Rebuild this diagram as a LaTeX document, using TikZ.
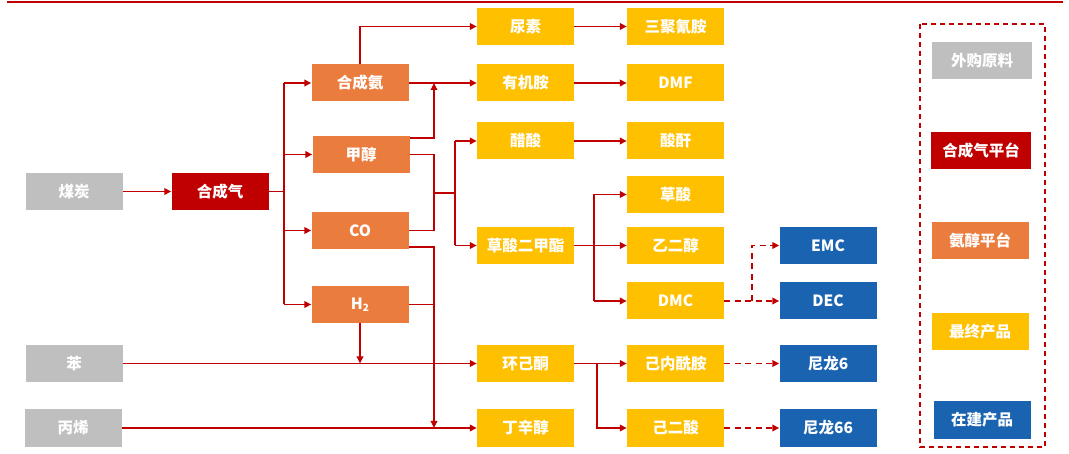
\documentclass[tikz,border=0pt]{standalone}
\usepackage{fontspec}
\setmainfont{Noto Sans CJK SC}
\usetikzlibrary{arrows.meta}
\definecolor{lred}{HTML}{C00000}
\definecolor{cgray}{HTML}{BFBFBF}
\definecolor{corange}{HTML}{EA7D3E}
\definecolor{cyellow}{HTML}{FFC000}
\definecolor{cblue}{HTML}{1A63B0}
\tikzset{
  box/.style={minimum width=97pt,minimum height=37pt,inner sep=0pt,text=white,font=\fontsize{15.5}{15.5}\selectfont\bfseries},
  graybox/.style={box,fill=cgray},
  redbox/.style={box,fill=lred},
  orangebox/.style={box,fill=corange},
  yellowbox/.style={box,fill=cyellow},
  bluebox/.style={box,fill=cblue},
  conn/.style={draw=lred,line width=1.7pt},
  arr/.style={conn,-{Triangle[length=7pt,width=6.5pt]}},
  darr/.style={arr,dash pattern=on 6pt off 4.5pt},
}
\begin{document}
\begin{tikzpicture}[x=1pt,y=-1pt]
\useasboundingbox (0,0) rectangle (1069,454);
\fill[white] (0,0) rectangle (1069,454);
\coordinate (tl) at (7,2);
\coordinate (tr) at (1063,2);
\draw[draw=lred,line width=2.2pt] (tl) -- (tr);
% sources
\node[graybox] (coal) at (74,191.5) {煤炭};
\node[graybox] (benz) at (74,363.5) {苯};
\node[graybox] (prop) at (73,428) {丙烯};
\node[redbox] (syn) at (220,191.5) {合成气};
% platform
\node[orangebox] (nh3) at (360,83) {合成氨};
\node[orangebox] (meoh) at (361,154.5) {甲醇};
\node[orangebox] (co) at (360,230.5) {CO};
\node[orangebox] (h2) at (360,304.5) {H\raisebox{-1.5pt}{\fontsize{10}{10}\selectfont 2}};
% column 1
\node[yellowbox] (urea) at (525.5,26.5) {尿素};
\node[yellowbox] (amine) at (525.5,83) {有机胺};
\node[yellowbox] (acetic) at (525.5,141) {醋酸};
\node[yellowbox] (dmo) at (525.5,245.5) {草酸二甲酯};
\node[yellowbox] (cyc) at (525.5,363.5) {环己酮};
\node[yellowbox] (oxo) at (525.5,428) {丁辛醇};
% column 2
\node[yellowbox] (mel) at (675.5,26.5) {三聚氰胺};
\node[yellowbox] (dmf) at (675.5,83) {DMF};
\node[yellowbox] (anh) at (675.5,141) {酸酐};
\node[yellowbox] (oxa) at (675.5,194.5) {草酸};
\node[yellowbox] (eg) at (675.5,245.5) {乙二醇};
\node[yellowbox] (dmc) at (675.5,301) {DMC};
\node[yellowbox] (capro) at (675.5,363.5) {己内酰胺};
\node[yellowbox] (adip) at (675.5,428) {己二酸};
% column 3
\node[bluebox] (emc) at (828,245.5) {EMC};
\node[bluebox] (dec) at (828,301) {DEC};
\node[bluebox] (ny6) at (828,363.5) {尼龙6};
\node[bluebox] (ny66) at (828,428) {尼龙66};
% legend
\coordinate (lg1) at (920,24);
\coordinate (lg2) at (1045,447);
\draw[draw=lred,line width=1.7pt,dash pattern=on 5pt off 4pt] (lg1) rectangle (lg2);
\node[graybox,minimum width=100pt] (l1) at (982,60.5) {外购原料};
\node[redbox,minimum width=100pt] (l2) at (981,150.5) {合成气平台};
\node[orangebox,minimum width=97pt] (l3) at (980,240.5) {氨醇平台};
\node[yellowbox,minimum width=97pt] (l4) at (980,331.5) {最终产品};
\node[bluebox,minimum width=97pt] (l5) at (982,420) {在建产品};
% trunk coordinates
\coordinate (t1) at (284,0);
\coordinate (x2) at (434,0);
\coordinate (m2) at (434,193);
\coordinate (t2) at (455,193);
\coordinate (t3) at (594,0);
\coordinate (t4) at (597,0);
\coordinate (t5) at (752,0);
% connectors
\draw[arr] (coal) -- (syn);
\draw[conn] (syn.east) -- (syn.east -| t1);
\draw[conn] (t1 |- nh3.west) -- (t1 |- h2.west);
\draw[arr] (t1 |- nh3.west) -- (nh3.west);
\draw[arr] (t1 |- meoh.west) -- (meoh.west);
\draw[arr] (t1 |- co.west) -- (co.west);
\draw[arr] (t1 |- h2.west) -- (h2.west);
\draw[arr] (nh3.north) |- (urea.west);
\draw[arr] (nh3.east) -- (amine.west);
\draw[arr] ([yshift=-2pt]meoh.north east) -| (x2 |- nh3.east);
\draw[conn] (meoh.east) -| (m2) -- (t2);
\draw[conn] (co.east) -| (m2);
\draw[conn] (t2 |- acetic.west) -- (t2 |- dmo.west);
\draw[arr] (t2 |- acetic.west) -- (acetic.west);
\draw[arr] (t2 |- dmo.west) -- (dmo.west);
\draw[arr] ([yshift=2.5pt]co.south east) -| (x2 |- prop.east);
\draw[conn] (h2.east) -- (x2 |- h2.east);
\draw[arr] (h2.south) -- (h2.south |- benz.east);
\draw[arr] (benz.east) -- (cyc.west);
\draw[arr] (prop.east) -- (oxo.west);
\draw[arr] (urea) -- (mel);
\draw[arr] (amine) -- (dmf);
\draw[arr] (acetic) -- (anh);
\draw[arr] (dmo) -- (eg);
\draw[conn] (t3 |- oxa.west) -- (t3 |- dmc.west);
\draw[arr] (t3 |- oxa.west) -- (oxa.west);
\draw[arr] (t3 |- dmc.west) -- (dmc.west);
\draw[darr] (dmc) -- (dec);
\draw[darr] (t5 |- dmc.east) |- (emc.west);
\draw[arr] (cyc) -- (capro);
\draw[arr] (t4 |- cyc.east) |- (adip.west);
\draw[darr] (capro) -- (ny6);
\draw[darr] (adip) -- (ny66);
\end{tikzpicture}
\end{document}
